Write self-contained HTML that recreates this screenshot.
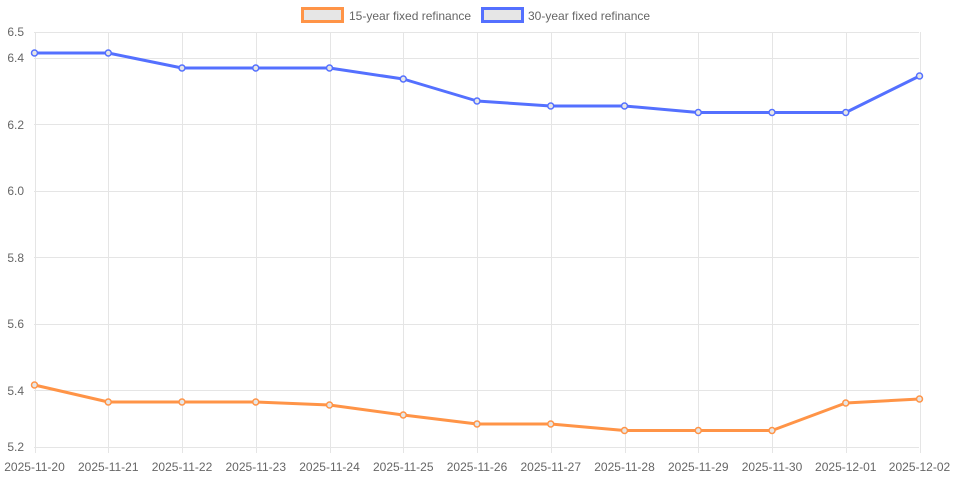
<!DOCTYPE html><html><head><style>body{margin:0;background:#fff}svg{display:block}text{font-family:"Liberation Sans",sans-serif;font-size:12px;fill:#666}</style></head><body>
<svg width="954" height="477">
<g stroke="#e5e5e5" stroke-width="1">
<line x1="34" y1="32.5" x2="919" y2="32.5"/><line x1="34" y1="58.5" x2="919" y2="58.5"/><line x1="34" y1="124.5" x2="919" y2="124.5"/><line x1="34" y1="191.5" x2="919" y2="191.5"/><line x1="34" y1="257.5" x2="919" y2="257.5"/><line x1="34" y1="324.5" x2="919" y2="324.5"/><line x1="34" y1="390.5" x2="919" y2="390.5"/><line x1="34" y1="447.5" x2="919" y2="447.5"/>
</g>
<g stroke="#e5e5e5" id="vg"></g>
<g id="xl"></g>
<g text-anchor="end">
<text x="24" y="36">6.5</text><text x="24" y="62">6.4</text><text x="24" y="129">6.2</text><text x="24" y="195">6.0</text><text x="24" y="262">5.8</text><text x="24" y="328">5.6</text><text x="24" y="395">5.4</text><text x="24" y="451">5.2</text>
</g>
<rect x="302.5" y="8.5" width="40" height="13" fill="#e6e6e6" stroke="#ff9447" stroke-width="3"/>
<text x="349" y="20">15-year fixed refinance</text>
<rect x="482.5" y="8.5" width="40" height="13" fill="#e6e6e6" stroke="#5470ff" stroke-width="3"/>
<text x="528" y="20">30-year fixed refinance</text>
<g id="s"></g>
</svg>
<script>
var vg=document.getElementById('vg'),xl=document.getElementById('xl'),s=document.getElementById('s'),ns='http://www.w3.org/2000/svg';
var d=['2025-11-20','2025-11-21','2025-11-22','2025-11-23','2025-11-24','2025-11-25','2025-11-26','2025-11-27','2025-11-28','2025-11-29','2025-11-30','2025-12-01','2025-12-02'];
function X(i){return 34.5+i*73.75}
var h='',t='';
for(var i=0;i<13;i++){var x=Math.round(X(i))+0.5;h+='<line x1="'+x+'" y1="32" x2="'+x+'" y2="453"/>';t+='<text x="'+X(i)+'" y="471" text-anchor="middle">'+d[i]+'</text>';}
vg.innerHTML=h;xl.innerHTML=t;
var a=[53,53,68,68,68,79,101,106,106,112.5,112.5,112.5,76];
var b=[385,402,402,402,405,415,424,424,430.5,430.5,430.5,403,399];
function ser(v,c){var p=v.map(function(y,i){return X(i)+','+y}).join(' ');var o='<polyline points="'+p+'" fill="none" stroke="'+c+'" stroke-width="3" stroke-linejoin="round"/>';v.forEach(function(y,i){o+='<circle cx="'+X(i)+'" cy="'+y+'" r="3" fill="#e6e6e6" stroke="'+c+'" stroke-width="1.5"/>'});return o}
s.innerHTML=ser(b,'#ff9447')+ser(a,'#5470ff');
</script>
</body></html>
